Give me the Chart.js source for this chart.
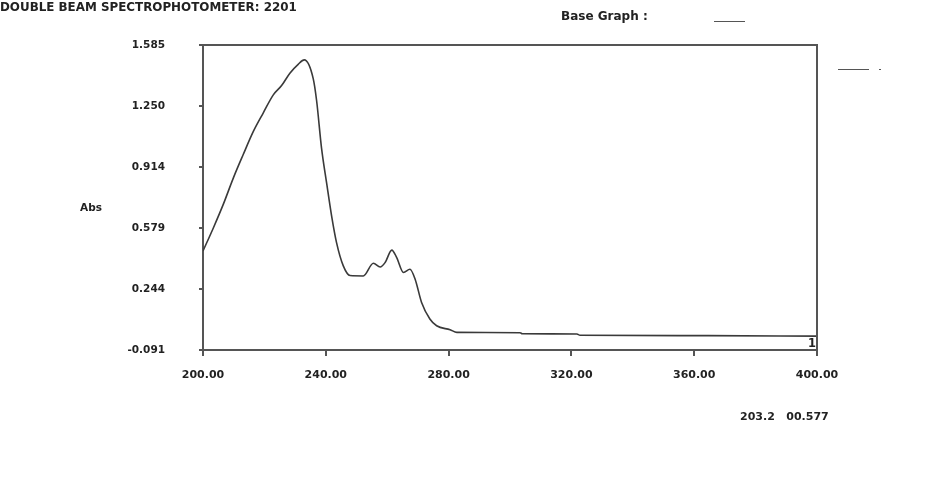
<!DOCTYPE html>
<html>
<head>
<meta charset="utf-8">
<script src="https://cdn.jsdelivr.net/npm/chart.js@4"></script>
<style>
  html, body { margin: 0; padding: 0; background: #fff; }
  #wrap { position: relative; width: 939px; height: 484px; overflow: hidden; }
  canvas { position: absolute; left: 0; top: 0; }
  .t { position: absolute; font-family: "DejaVu Sans", sans-serif; font-weight: bold; font-size: 10.5px; color: #222; white-space: pre; line-height: 1; }
  .ln { position: absolute; height: 1px; background: #555; }
</style>
</head>
<body>
<div id="wrap">
  <canvas id="c" width="939" height="484"></canvas>
  <div class="t" style="left:0px; top:2px; font-size:11.9px;">DOUBLE BEAM SPECTROPHOTOMETER: 2201</div>
  <div class="t" style="left:561px; top:10px; font-size:12px;">Base Graph :</div>
  <div class="ln" style="left:714px; top:21px; width:31px;"></div>
  <div class="ln" style="left:838px; top:69px; width:31px;"></div>
  <div class="ln" style="left:879px; top:69px; width:2px;"></div>
  <div class="t" style="left:80px; top:202px;">Abs</div>
  <div class="t" style="left:740px; top:411px; font-size:11px;">203.2   00.577</div>
  <div class="t" style="left:808px; top:338px; font-size:11.5px;">1</div>
</div>
<script>
const wavelengths = [200, 203.4, 206.6, 209.9, 213.1, 216.4, 219.6, 222.9, 225.6, 228.3, 231.0, 233.0, 235.9, 237.0, 238.6, 240.3, 241.9, 243.5, 245.7, 247.9, 252.2, 255.5, 257.7, 259.3, 261.5, 263.1, 265.3, 267.4, 269.1, 271.2, 273.9, 276.1, 280.5, 282.7, 303.3, 304.0, 321.8, 322.8, 364.5, 400];
const absorbance  = [0.453, 0.581, 0.709, 0.855, 0.983, 1.110, 1.211, 1.311, 1.362, 1.430, 1.479, 1.503, 1.400, 1.280, 1.020, 0.823, 0.645, 0.499, 0.371, 0.318, 0.316, 0.386, 0.365, 0.389, 0.458, 0.417, 0.335, 0.353, 0.298, 0.170, 0.079, 0.042, 0.020, 0.006, 0.004, -0.002, -0.003, -0.010, -0.012, -0.015];
const xTicks = [200, 240, 280, 320, 360, 400];
const yTicks = [-0.091, 0.244, 0.579, 0.914, 1.250, 1.585];

const frame = {
  id: 'frame',
  afterDraw(chart) {
    const a = chart.chartArea, ctx = chart.ctx;
    ctx.save();
    ctx.strokeStyle = '#555';
    ctx.lineWidth = 2;
    ctx.beginPath();
    ctx.moveTo(a.left, a.top); ctx.lineTo(a.right, a.top); ctx.lineTo(a.right, a.bottom);
    ctx.stroke();
    ctx.restore();
  }
};

new Chart(document.getElementById('c'), {
  type: 'line',
  data: {
    datasets: [{
      data: wavelengths.map((w, i) => ({ x: w, y: absorbance[i] })),
      borderColor: '#3a3a3a',
      borderWidth: 1.6,
      pointRadius: 0,
      fill: false,
      cubicInterpolationMode: 'monotone'
    }]
  },
  options: {
    responsive: false,
    animation: false,
    events: [],
    layout: { padding: { left: 0, top: 45, right: 122, bottom: 0 } },
    plugins: { legend: { display: false }, tooltip: { enabled: false } },
    scales: {
      x: {
        type: 'linear', min: 200, max: 400,
        afterBuildTicks: s => { s.ticks = xTicks.map(v => ({ value: v })); },
        afterFit: s => { s.height = 134; },
        grid: { drawOnChartArea: false, drawTicks: true, tickLength: 6, color: '#555', lineWidth: 2 },
        border: { display: true, color: '#555', width: 2 },
        ticks: { padding: 13, color: '#222', font: { family: 'DejaVu Sans', weight: 'bold', size: 11 }, callback: v => Number(v).toFixed(2), maxRotation: 0 }
      },
      y: {
        type: 'linear', min: -0.091, max: 1.585,
        afterBuildTicks: s => { s.ticks = yTicks.map(v => ({ value: v })); },
        afterFit: s => { s.width = 203; },
        grid: { drawOnChartArea: false, drawTicks: true, tickLength: 4, color: '#555', lineWidth: 2 },
        border: { display: true, color: '#555', width: 2 },
        ticks: { padding: 34, color: '#222', font: { family: 'DejaVu Sans', weight: 'bold', size: 10.5 }, callback: v => Number(v).toFixed(3) }
      }
    }
  },
  plugins: [frame]
});
</script>
</body>
</html>
